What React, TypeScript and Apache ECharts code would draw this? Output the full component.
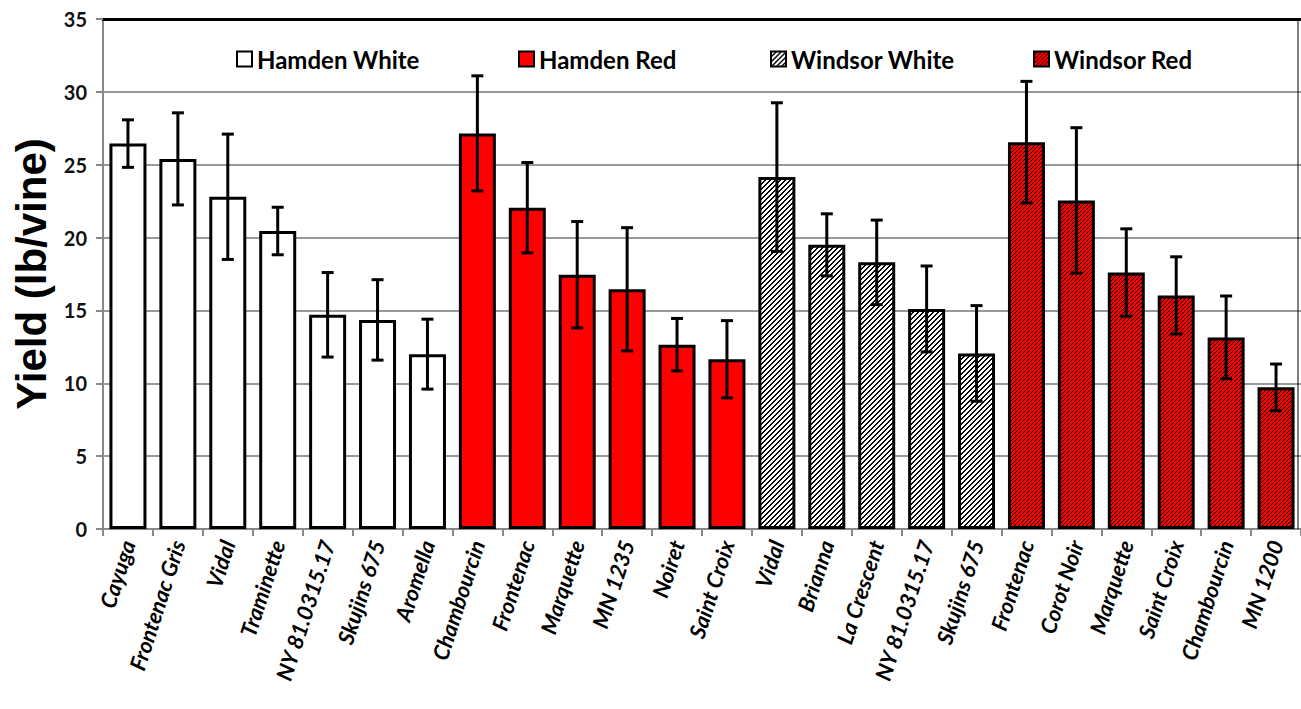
import React, { useEffect, useRef } from "react";
import * as echarts from "echarts";

const categories = [
  "Cayuga", "Frontenac Gris", "Vidal", "Traminette", "NY 81.0315.17", "Skujins 675", "Aromella",
  "Chambourcin", "Frontenac", "Marquette", "MN 1235", "Noiret", "Saint Croix",
  "Vidal", "Brianna", "La Crescent", "NY 81.0315.17", "Skujins 675",
  "Frontenac", "Corot Noir", "Marquette", "Saint Croix", "Chambourcin", "MN 1200",
];

const hamdenWhite = [26.45, 25.4, 22.8, 20.45, 14.7, 14.35, 12.0];
const hamdenWhiteErr = [1.63, 3.16, 4.3, 1.63, 2.9, 2.76, 2.4];
const hamdenRed = [27.15, 22.05, 17.45, 16.45, 12.65, 11.65];
const hamdenRedErr = [3.95, 3.1, 3.65, 4.23, 1.8, 2.65];
const windsorWhite = [24.15, 19.5, 18.3, 15.1, 12.05];
const windsorWhiteErr = [5.1, 2.13, 2.9, 2.95, 3.28];
const windsorRed = [26.55, 22.55, 17.6, 16.03, 13.15, 9.72];
const windsorRedErr = [4.17, 4.99, 3.0, 2.65, 2.84, 1.6];

const seriesNames = ["Hamden White", "Hamden Red", "Windsor White", "Windsor Red"];
const yTicks = { min: 0, max: 35, interval: 5 };

function makeHatch(bg: string, fg: string, size: number, thick: boolean) {
  const c = document.createElement("canvas");
  c.width = size;
  c.height = size;
  const ctx = c.getContext("2d")!;
  ctx.fillStyle = bg;
  ctx.fillRect(0, 0, size, size);
  ctx.fillStyle = fg;
  for (let i = 0; i < size; i++) {
    ctx.fillRect(i, size - 1 - i, 1, 1);
    if (thick) ctx.fillRect(i, (size - i) % size, 1, 1);
  }
  return { image: c, repeat: "repeat", imageWidth: size, imageHeight: size } as any;
}

export default function App() {
  const ref = useRef<HTMLDivElement>(null);
  useEffect(() => {
    if (!ref.current) return;
    const chart = echarts.init(ref.current, null, { renderer: "svg" });

    const groups = [
      { vals: hamdenWhite, errs: hamdenWhiteErr },
      { vals: hamdenRed, errs: hamdenRedErr },
      { vals: windsorWhite, errs: windsorWhiteErr },
      { vals: windsorRed, errs: windsorRedErr },
    ];
    const colors: any[] = [
      "#ffffff",
      "#ff0000",
      makeHatch("#ffffff", "#000000", 5, true),
      makeHatch("#ff0000", "#000000", 4, false),
    ];

    let offset = 0;
    const barSeries: any[] = [];
    const errData: number[][] = [];
    groups.forEach((g, gi) => {
      const data: any[] = categories.map(() => "-");
      g.vals.forEach((v, i) => {
        data[offset + i] = v;
        errData.push([offset + i, v - g.errs[i], v + g.errs[i]]);
      });
      offset += g.vals.length;
      barSeries.push({
        name: seriesNames[gi],
        type: "bar",
        stack: "all",
        barWidth: 37,
        data,
        itemStyle: { color: colors[gi], borderColor: "#000", borderWidth: 3 },
      });
    });

    const legendLefts = [231, 513, 765, 1028];
    const legends = seriesNames.map((n, i) => ({
      data: [n],
      left: legendLefts[i],
      top: 42,
      itemWidth: 15,
      itemHeight: 15,
      icon: "rect",
      itemGap: 6,
      textStyle: { fontFamily: "Lato", fontWeight: "bold", fontSize: 24, color: "#000" },
    }));

    chart.setOption({
      animation: false,
      grid: { left: 103, right: -2, top: 19, bottom: 180 },
      legend: legends,
      xAxis: [
        {
          type: "category",
          data: categories,
          axisLine: { lineStyle: { color: "#888", width: 2 } },
          axisTick: { show: true, length: 7, lineStyle: { color: "#888", width: 2 } },
          axisLabel: {
            interval: 0,
            rotate: 72,
            margin: 12,
            fontFamily: "Lato",
            fontWeight: "bold",
            fontStyle: "italic",
            fontSize: 22,
            color: "#000",
          },
        },
        {
          type: "category",
          data: categories,
          position: "top",
          axisLine: { show: true, lineStyle: { color: "#000", width: 3 } },
          axisTick: { show: false },
          axisLabel: { show: false },
        },
      ],
      yAxis: {
        type: "value",
        min: yTicks.min,
        max: yTicks.max,
        interval: yTicks.interval,
        name: "Yield (lb/vine)",
        nameLocation: "middle",
        nameGap: 48,
        nameTextStyle: {
          fontFamily: "Liberation Sans",
          fontWeight: "bold",
          fontSize: 42,
          color: "#000",
        },
        axisLine: { show: true, lineStyle: { color: "#888", width: 2 } },
        axisTick: { show: true, length: 7, lineStyle: { color: "#888", width: 2 } },
        axisLabel: {
          margin: 16,
          fontFamily: "Lato",
          fontWeight: "bold",
          fontSize: 20,
          color: "#111",
        },
        splitLine: { lineStyle: { color: "#999", width: 2 } },
      },
      graphic: [
        {
          type: "line",
          shape: { x1: 1298, y1: 19, x2: 1298, y2: 529 },
          style: { stroke: "#000", lineWidth: 1 },
          z: 100,
        },
      ],
      series: [
        ...barSeries,
        {
          type: "custom",
          name: "err",
          data: errData,
          encode: { x: 0, y: [1, 2] },
          z: 10,
          renderItem: (params: any, api: any) => {
            const x = api.value(0);
            const lo = api.coord([x, api.value(1)]);
            const hi = api.coord([x, api.value(2)]);
            const cap = 6;
            const style = { stroke: "#000", lineWidth: 3 };
            return {
              type: "group",
              children: [
                { type: "line", shape: { x1: hi[0], y1: hi[1], x2: lo[0], y2: lo[1] }, style },
                { type: "line", shape: { x1: hi[0] - cap, y1: hi[1], x2: hi[0] + cap, y2: hi[1] }, style },
                { type: "line", shape: { x1: lo[0] - cap, y1: lo[1], x2: lo[0] + cap, y2: lo[1] }, style },
              ],
            };
          },
        },
      ],
    });
    return () => chart.dispose();
  }, []);
  return (
    <div
      ref={ref}
      style={{ position: "fixed", left: 0, top: 0, width: 1301, height: 709, background: "#fff" }}
    />
  );
}
